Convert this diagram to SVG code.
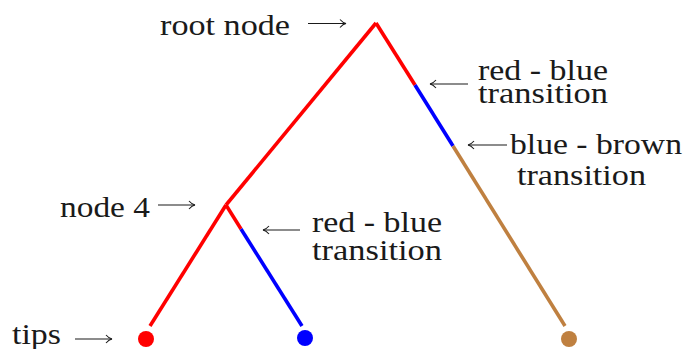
<svg xmlns="http://www.w3.org/2000/svg" width="685" height="349" viewBox="0 0 685 349">
<style>
.t{font-family:'Liberation Serif','DejaVu Serif',serif;font-size:30px;fill:#1a1a1a}
.br{fill:none;stroke-width:3.6;stroke-linecap:butt}
.r{stroke:#FF0000}.b{stroke:#0000FF}.w{stroke:#BF8040}
.ar{stroke:#1a1a1a;stroke-width:1.1;fill:none}
</style>
<defs>
<marker id="ah" viewBox="-8 -5 10 10" markerWidth="10" markerHeight="10" refX="0" refY="0" orient="auto" markerUnits="userSpaceOnUse">
<path d="M -6 -4 Q -3 -0.6 0 0 Q -3 0.6 -6 4" fill="none" stroke="#1a1a1a" stroke-width="1.1"/>
</marker>
</defs>
<g id="connectors">
<path class="br r" d="M376 23 L226 205"/>
<path class="br r" d="M376 23 L415 85"/>
<path class="br b" d="M415 85 L453 146"/>
<path class="br w" d="M453 146 L565 326"/>
<path class="br r" d="M226 205 L150 326"/>
<path class="br r" d="M226 205 L241 229"/>
<path class="br b" d="M241 229 L302 326"/>
</g>
<g id="tip-red"><circle cx="146" cy="339" r="8" fill="#FF0000"/></g>
<g id="tip-blue"><circle cx="305" cy="338" r="8" fill="#0000FF"/></g>
<g id="tip-brown"><circle cx="569" cy="339" r="8" fill="#BF8040"/></g>
<g id="label-root">
<text class="t" font-family="Liberation Serif, serif" x="160" y="35" textLength="130" lengthAdjust="spacingAndGlyphs">root node</text>
<line class="ar" x1="308" y1="23.5" x2="346" y2="23.5" marker-end="url(#ah)"/>
</g>
<g id="label-rb1">
<line class="ar" x1="468" y1="84" x2="430" y2="84" marker-end="url(#ah)"/>
<text class="t" font-family="Liberation Serif, serif" x="478" y="80" textLength="130" lengthAdjust="spacingAndGlyphs">red - blue</text>
<text class="t" font-family="Liberation Serif, serif" x="478" y="103" textLength="130" lengthAdjust="spacingAndGlyphs">transition</text>
</g>
<g id="label-bb">
<line class="ar" x1="507" y1="145" x2="468" y2="145" marker-end="url(#ah)"/>
<text class="t" font-family="Liberation Serif, serif" x="510" y="154" textLength="172" lengthAdjust="spacingAndGlyphs">blue - brown</text>
<text class="t" font-family="Liberation Serif, serif" x="517" y="185" textLength="129" lengthAdjust="spacingAndGlyphs">transition</text>
</g>
<g id="label-node4">
<text class="t" font-family="Liberation Serif, serif" x="60" y="217" textLength="90" lengthAdjust="spacingAndGlyphs">node 4</text>
<line class="ar" x1="158" y1="205" x2="195" y2="205" marker-end="url(#ah)"/>
</g>
<g id="label-rb2">
<line class="ar" x1="300" y1="230" x2="263" y2="230" marker-end="url(#ah)"/>
<text class="t" font-family="Liberation Serif, serif" x="312" y="232" textLength="130" lengthAdjust="spacingAndGlyphs">red - blue</text>
<text class="t" font-family="Liberation Serif, serif" x="312" y="260" textLength="130" lengthAdjust="spacingAndGlyphs">transition</text>
</g>
<g id="label-tips">
<text class="t" font-family="Liberation Serif, serif" x="12" y="344" textLength="49" lengthAdjust="spacingAndGlyphs">tips</text>
<line class="ar" x1="75" y1="339" x2="112" y2="339" marker-end="url(#ah)"/>
</g>
</svg>
